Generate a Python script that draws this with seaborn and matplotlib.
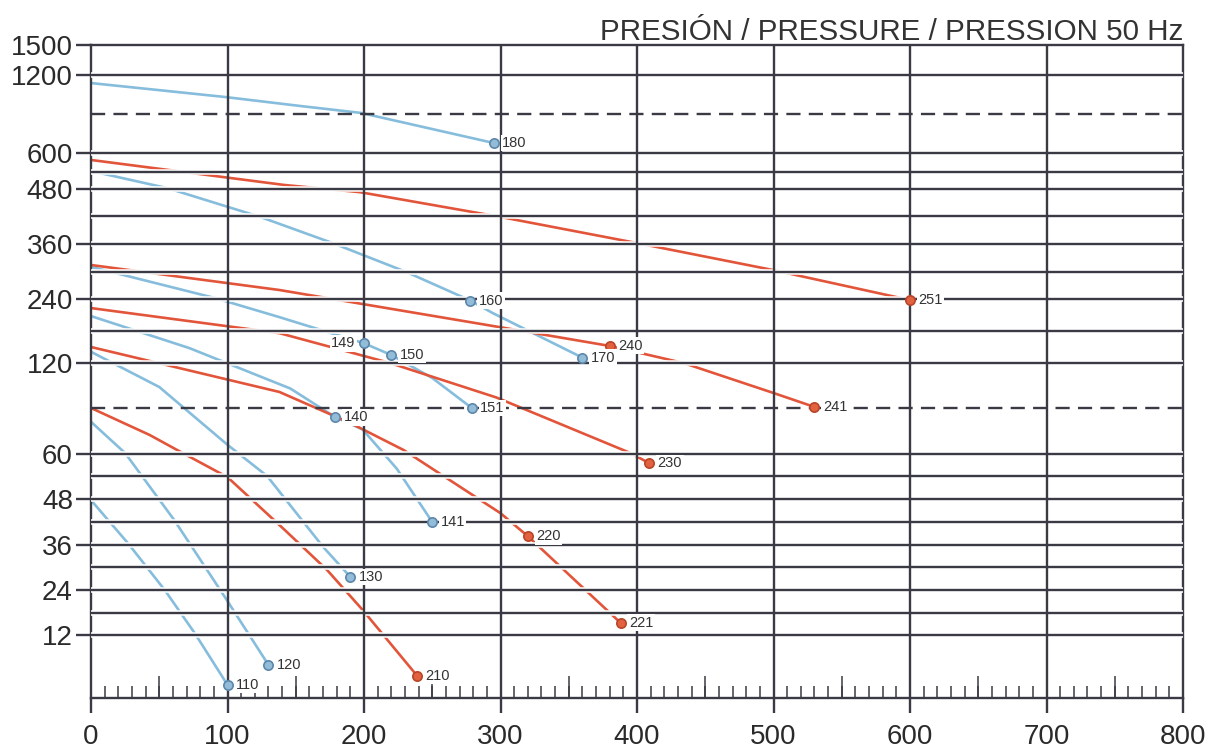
import numpy as np
import pandas as pd
import matplotlib
matplotlib.use("Agg")
import matplotlib.pyplot as plt
import matplotlib.patheffects as pe
import seaborn as sns

# pump curves: flow (x) and pressure (y)
# blue family
q_180 = [0, 98, 153, 198, 295]
p_180 = [1138, 1031, 962, 908, 677]
q_170 = [0, 56, 124, 177, 231, 278, 294, 360]
p_170 = [543, 483, 418, 362, 300, 237, 214, 130]
q_151 = [0, 91, 138, 200, 220, 250, 279]
p_151 = [311, 242, 206, 157, 135, 110, 90]
q_141 = [0, 72, 146, 179, 199, 224, 250]
p_141 = [208, 148, 103, 84, 76, 56, 42]
q_130 = [0, 50, 100, 129, 170, 190]
p_130 = [141, 104, 66, 54, 35.5, 27.4]
q_120 = [0, 25, 61, 98, 130]
p_120 = [81, 60.6, 42.5, 22.2, 6.3]
q_110 = [0, 27, 54, 76, 100]
p_110 = [47.7, 36.5, 24, 12.5, 2.5]
# red family
q_251 = [0, 142, 197, 300, 400, 500, 600]
p_251 = [578, 494, 473, 418, 362, 304, 238]
q_241 = [0, 138, 300, 380, 434, 500, 530]
p_241 = [315, 260, 187, 152, 120, 100, 90.7]
q_230 = [0, 138, 219, 297, 395, 409]
p_230 = [223, 176, 120, 97, 60.7, 57.5]
q_221 = [0, 138, 190, 229, 300, 320, 388]
p_221 = [150, 100.7, 80.2, 62.6, 44.3, 38.3, 15.3]
q_210 = [0, 43, 67, 100, 142, 173, 199, 239]
p_210 = [90, 72.4, 60.7, 53.7, 39.9, 29.2, 18.8, 4.2]

# model points marked on the curves
dot_name = ["110", "120", "130", "140", "141", "149", "150", "151", "160", "170", "180",
            "210", "220", "221", "230", "240", "241", "251"]
dot_q = [100, 130, 190, 179, 250, 200, 220, 279, 278, 360, 295,
         239, 320, 388, 409, 380, 530, 600]
dot_p = [2.5, 6.3, 27.4, 84, 42, 157, 135, 90, 237, 130, 677,
         4.2, 38.3, 15.3, 57.5, 152, 90.7, 238]
dot_fam = ["b"] * 11 + ["r"] * 7

y_ticks = [12, 24, 36, 48, 60, 120, 240, 360, 480, 600, 1200, 1500]
y_grid = [12, 18, 24, 30, 36, 42, 48, 54, 60, 120, 180, 240, 300, 360, 420, 480, 540, 600, 1200]
y_dash = [90, 900]
x_ticks = [0, 100, 200, 300, 400, 500, 600, 700, 800]

curves = [("180", "b", q_180, p_180), ("170", "b", q_170, p_170), ("151", "b", q_151, p_151),
          ("141", "b", q_141, p_141), ("130", "b", q_130, p_130), ("120", "b", q_120, p_120),
          ("110", "b", q_110, p_110), ("251", "r", q_251, p_251), ("241", "r", q_241, p_241),
          ("230", "r", q_230, p_230), ("221", "r", q_221, p_221), ("210", "r", q_210, p_210)]
rows = []
for name, fam, qs, ps in curves:
    for q, p in zip(qs, ps):
        rows.append((name, fam, q, p))
df = pd.DataFrame(rows, columns=["curve", "fam", "q", "p"])
dots = pd.DataFrame({"name": dot_name, "q": dot_q, "p": dot_p, "fam": dot_fam})

# the printed pressure axis is not linear: value -> height
scale_v = [0, 12, 18, 24, 30, 36, 42, 48, 54, 60, 90, 120, 180, 240, 300, 360, 420, 480, 540, 600, 900, 1200, 1500]
scale_h = [0, 63, 85, 108, 131, 153, 176, 199, 222, 244, 290, 335, 367, 399, 426, 454, 482, 509, 526, 545, 584, 623, 653]

def fwd(v):
    return np.interp(v, scale_v, scale_h)

def inv(h):
    return np.interp(h, scale_h, scale_v)

sns.set_theme(style="white")
plt.rcParams["font.family"] = ["Liberation Sans", "DejaVu Sans"]

line_pal = {"b": "#86bddc", "r": "#e2553a"}
face_pal = {"b": "#93bcd8", "r": "#e2613e"}
edge_pal = {"b": "#5d87aa", "r": "#b8452a"}
grid_c = "#3a3a44"

fig = plt.figure(figsize=(12.11, 7.53), dpi=100)
ax = fig.add_axes([91 / 1211, 55 / 753, 1092 / 1211, 653 / 753])
ax.set_yscale("function", functions=(fwd, inv))
ax.set_xlim(0, 800)
ax.set_ylim(0, 1500)

sns.lineplot(data=df, x="q", y="p", hue="fam", units="curve", estimator=None, sort=False,
             palette=line_pal, linewidth=1.9, legend=False, ax=ax, zorder=2)

halo = [pe.Stroke(linewidth=4, foreground="white"), pe.Normal()]
for v in y_grid:
    ax.axhline(v, color=grid_c, lw=1.7, zorder=3, path_effects=halo)
for v in y_dash:
    ax.axhline(v, color=grid_c, lw=1.7, ls=(0, (6, 3.5)), zorder=3)
for v in x_ticks[1:-1]:
    ax.axvline(v, color=grid_c, lw=1.7, zorder=3)

for fam in ["b", "r"]:
    sub = dots[dots.fam == fam]
    sns.scatterplot(data=sub, x="q", y="p", s=45, color=face_pal[fam], edgecolor=edge_pal[fam],
                    linewidth=1.2, legend=False, ax=ax, zorder=5)

for name, q, p in zip(dot_name, dot_q, dot_p):
    if name == "149":
        off, ha = (-6, 0), "right"
    else:
        off, ha = (6, 0), "left"
    ax.annotate(name, (q, p), xytext=off, textcoords="offset points", ha=ha, va="center",
                fontsize=10.5, color="#333333", zorder=6,
                bbox=dict(boxstyle="square,pad=0.1", fc="white", ec="none"))

# small ticks on the flow axis
ax.set_xticks(x_ticks)
ax.set_xticks(np.arange(10, 800, 10), minor=True)
ax.set_yticks(y_ticks)
ax.set_yticks([], minor=True)
ax.set_yticklabels([str(t) for t in y_ticks])
ax.tick_params(axis="x", which="major", direction="out", length=11, width=1.7, color=grid_c,
               labelsize=20, pad=8, labelcolor="#2a2a2a", bottom=True)
ax.tick_params(axis="x", which="minor", direction="in", length=8.5, width=1.1, color=grid_c, bottom=True)
ax.tick_params(axis="y", which="major", direction="out", length=11, width=1.7, color=grid_c,
               labelsize=20, pad=2, labelcolor="#2a2a2a", left=True)
ax.vlines(np.arange(50, 800, 100), 0, 0.034, transform=ax.get_xaxis_transform(),
          color=grid_c, lw=1.1, zorder=3)

for s in ax.spines.values():
    s.set_visible(True)
    s.set_color(grid_c)
    s.set_linewidth(1.7)
ax.set_xlabel("")
ax.set_ylabel("")

fig.text(1183 / 1211, 713 / 753, "PRESIÓN / PRESSURE / PRESSION 50 Hz", ha="right", va="baseline",
         fontsize=21.3, color="#333333")

fig.savefig("out.png", dpi=100)
